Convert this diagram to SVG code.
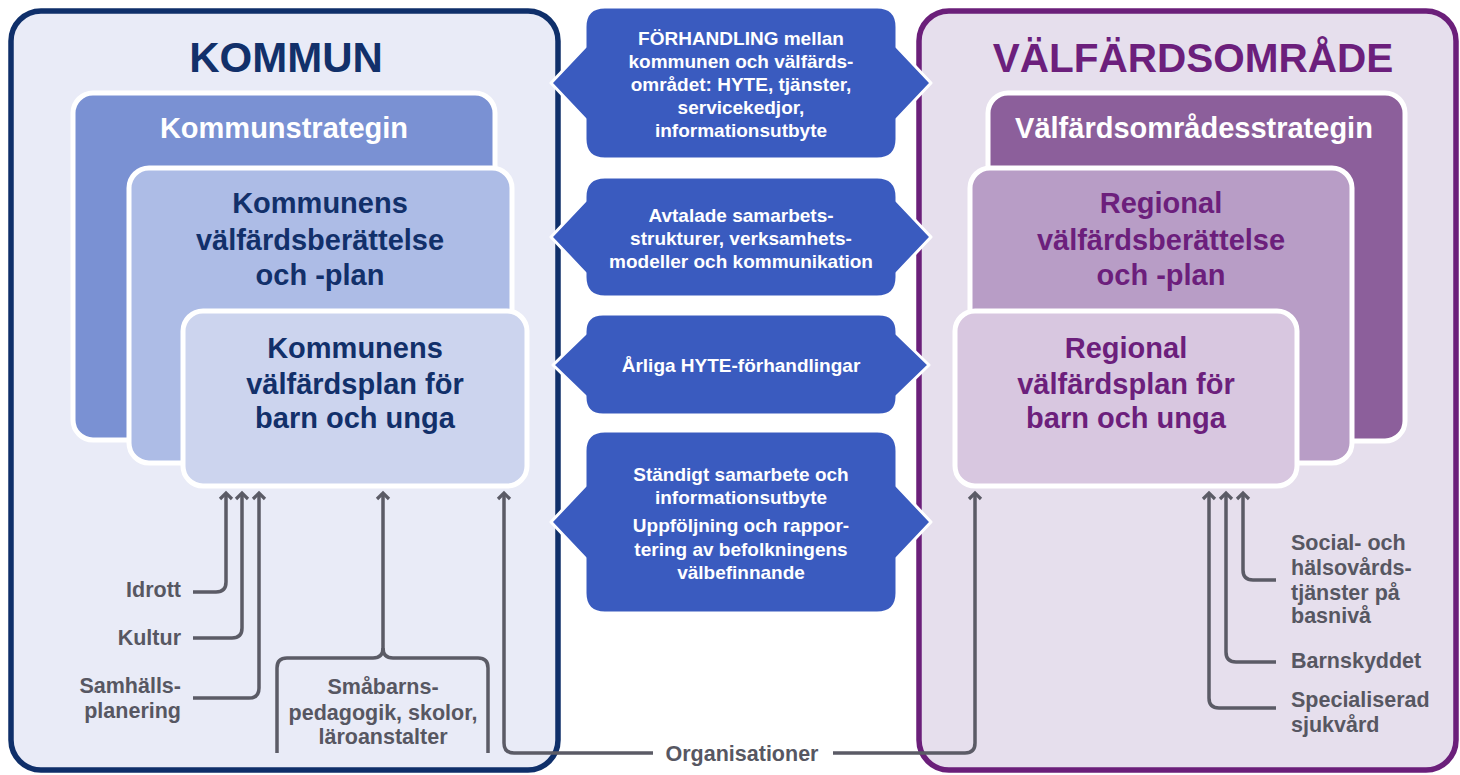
<svg xmlns="http://www.w3.org/2000/svg" width="1460" height="775" viewBox="0 0 1460 775">
<defs>
<style>
text{font-family:"Liberation Sans",Arial,sans-serif;font-weight:bold;}
.panelL{fill:#e9ebf7;stroke:#0f2f6a;stroke-width:5.5;}
.panelR{fill:#e6dfed;stroke:#6b1f7a;stroke-width:5.5;}
.box{stroke:#ffffff;stroke-width:5;}
.title{font-size:42px;text-anchor:middle;}
.strat{font-size:29px;fill:#ffffff;text-anchor:middle;}
.lbl{font-size:29px;text-anchor:middle;}
.navy{fill:#12306a;}
.purp{fill:#6c1f7c;}
.hex{fill:#3a5bbf;stroke:#ffffff;stroke-width:3;stroke-linejoin:round;}
.ht{font-size:19px;fill:#ffffff;text-anchor:middle;}
.gl{font-size:21.5px;fill:#575762;}
.con{fill:none;stroke:#5b5b66;stroke-width:3.5;stroke-linecap:butt;}
</style>
<marker id="ah" viewBox="-8 -8 16 16" refX="0" refY="0" markerWidth="16" markerHeight="16" markerUnits="userSpaceOnUse" orient="auto">
<path d="M-6,-6 L0,0 L-6,6" fill="none" stroke="#5b5b66" stroke-width="3.2" stroke-linejoin="miter"/>
</marker>
</defs>
<rect width="1460" height="775" fill="#ffffff"/>

<g id="kommun">
<rect class="panelL" x="11" y="11" width="547" height="759" rx="30"/>
<text class="title navy" x="286" y="72">KOMMUN</text>
</g>
<g id="kommunstrategin">
<rect class="box" x="73" y="93" width="422" height="347" rx="20" fill="#7a91d3"/>
<text class="strat" x="284" y="138">Kommunstrategin</text>
</g>
<g id="kommun-berattelse">
<rect class="box" x="129" y="168" width="383" height="295" rx="20" fill="#adbce6"/>
<text class="lbl navy" x="320" y="213">Kommunens</text>
<text class="lbl navy" x="320" y="250">välfärdsberättelse</text>
<text class="lbl navy" x="320" y="285">och -plan</text>
</g>
<g id="kommun-barn">
<rect class="box" x="183" y="311" width="344" height="175" rx="20" fill="#ccd4ee"/>
<text class="lbl navy" x="355" y="358">Kommunens</text>
<text class="lbl navy" x="355" y="394">välfärdsplan för</text>
<text class="lbl navy" x="355" y="428">barn och unga</text>
</g>

<g id="valfardsomrade">
<rect class="panelR" x="919" y="11" width="537" height="759" rx="30"/>
<text class="title purp" x="1193" y="72" style="font-size:40.5px">VÄLFÄRDSOMRÅDE</text>
</g>
<g id="vo-strategin">
<rect class="box" x="988" y="93" width="417" height="348" rx="20" fill="#8c5f9b"/>
<text class="strat" x="1194" y="138">Välfärdsområdesstrategin</text>
</g>
<g id="regional-berattelse">
<rect class="box" x="970" y="168" width="382" height="295" rx="20" fill="#b89dc6"/>
<text class="lbl purp" x="1161" y="213">Regional</text>
<text class="lbl purp" x="1161" y="250">välfärdsberättelse</text>
<text class="lbl purp" x="1161" y="285">och -plan</text>
</g>
<g id="regional-barn">
<rect class="box" x="955" y="311" width="342" height="175" rx="20" fill="#d8c7e0"/>
<text class="lbl purp" x="1126" y="358">Regional</text>
<text class="lbl purp" x="1126" y="394">välfärdsplan för</text>
<text class="lbl purp" x="1126" y="428">barn och unga</text>
</g>

<g id="forhandling">
<path class="hex" d="M605,7 H877 Q897,7 897,27 V47 L931,83 L897,119 V139 Q897,159 877,159 H605 Q585,159 585,139 V119 L551,83 L585,47 V27 Q585,7 605,7 Z"/>
<text class="ht" x="741" y="45">FÖRHANDLING mellan</text>
<text class="ht" x="741" y="68">kommunen och välfärds-</text>
<text class="ht" x="741" y="91">området: HYTE, tjänster,</text>
<text class="ht" x="741" y="114">servicekedjor,</text>
<text class="ht" x="741" y="137">informationsutbyte</text>
</g>
<g id="avtalade">
<path class="hex" d="M605,177 H877 Q897,177 897,197 V201 L931,237 L897,273 V277 Q897,297 877,297 H605 Q585,297 585,277 V273 L551,237 L585,201 V197 Q585,177 605,177 Z"/>
<text class="ht" x="741" y="222">Avtalade samarbets-</text>
<text class="ht" x="741" y="245">strukturer, verksamhets-</text>
<text class="ht" x="741" y="268">modeller och kommunikation</text>
</g>
<g id="arliga">
<path class="hex" d="M603,314 H879 Q897,314 897,332 V334 L929,365 L897,396 V397 Q897,415 879,415 H603 Q585,415 585,397 V396 L553,365 L585,334 V332 Q585,314 603,314 Z"/>
<text class="ht" x="741" y="372">Årliga HYTE-förhandlingar</text>
</g>
<g id="standigt">
<path class="hex" d="M605,431 H877 Q897,431 897,451 V486 L931,522 L897,558 V593 Q897,613 877,613 H605 Q585,613 585,593 V558 L551,522 L585,486 V451 Q585,431 605,431 Z"/>
<text class="ht" x="741" y="481">Ständigt samarbete och</text>
<text class="ht" x="741" y="504">informationsutbyte</text>
<text class="ht" x="741" y="532">Uppföljning och rappor-</text>
<text class="ht" x="741" y="556">tering av befolkningens</text>
<text class="ht" x="741" y="579">välbefinnande</text>
</g>

<g id="connectors">
<path class="con" marker-end="url(#ah)" d="M193,592 H216 Q226,592 226,582 V493"/>
<path class="con" marker-end="url(#ah)" d="M193,638 H232 Q242,638 242,628 V493"/>
<path class="con" marker-end="url(#ah)" d="M193,698 H249 Q259,698 259,688 V493"/>
<path class="con" marker-end="url(#ah)" d="M277,753 V668 Q277,658 287,658 H373 Q383,658 383,648 V493"/>
<path class="con" d="M488,753 V668 Q488,658 478,658 H393 Q383,658 383,648"/>
<path class="con" marker-end="url(#ah)" d="M653,753 H514 Q504,753 504,743 V493"/>
<path class="con" marker-end="url(#ah)" d="M833,753 H965 Q975,753 975,743 V493"/>
<path class="con" marker-end="url(#ah)" d="M1276,580 H1253 Q1243,580 1243,570 V493"/>
<path class="con" marker-end="url(#ah)" d="M1276,662 H1236 Q1226,662 1226,652 V493"/>
<path class="con" marker-end="url(#ah)" d="M1276,708 H1219 Q1209,708 1209,698 V493"/>
</g>

<g id="labels">
<text class="gl" x="181" y="597" text-anchor="end">Idrott</text>
<text class="gl" x="181" y="645" text-anchor="end">Kultur</text>
<text class="gl" x="181" y="693" text-anchor="end">Samhälls-</text>
<text class="gl" x="181" y="718" text-anchor="end">planering</text>
<text class="gl" x="383" y="694" text-anchor="middle">Småbarns-</text>
<text class="gl" x="383" y="720" text-anchor="middle">pedagogik, skolor,</text>
<text class="gl" x="383" y="744" text-anchor="middle">läroanstalter</text>
<text class="gl" x="742" y="761" text-anchor="middle">Organisationer</text>
<text class="gl" x="1291" y="550">Social- och</text>
<text class="gl" x="1291" y="575">hälsovårds-</text>
<text class="gl" x="1291" y="600">tjänster på</text>
<text class="gl" x="1291" y="623">basnivå</text>
<text class="gl" x="1291" y="668">Barnskyddet</text>
<text class="gl" x="1291" y="707">Specialiserad</text>
<text class="gl" x="1291" y="732">sjukvård</text>
</g>
</svg>
